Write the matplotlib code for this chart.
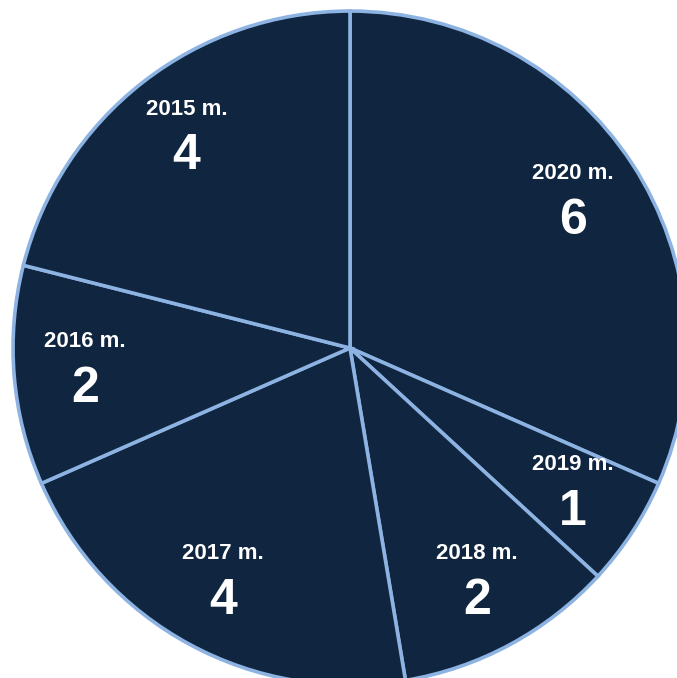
import matplotlib.pyplot as plt
import numpy as np

# Duomenys: metai ir reikšmės (pagal laikrodžio rodyklę nuo viršaus)
years = ['2020 m.', '2019 m.', '2018 m.', '2017 m.', '2016 m.', '2015 m.']
values = [6, 1, 2, 4, 2, 4]

fill_color = '#10253f'
edge_color = '#8db3e2'

fig = plt.figure(figsize=(6.77, 6.78), dpi=100)
ax = fig.add_axes([0.0192, -0.0103, 0.9956, 0.994])

wedges, _ = ax.pie(values, startangle=90, counterclock=False, radius=1,
                   colors=[fill_color] * len(values),
                   wedgeprops=dict(edgecolor=edge_color, linewidth=2.6))

total = sum(values)
start = 90.0
r_lab = 0.79
for year, val in zip(years, values):
    span = val / total * 360
    mid = np.deg2rad(start - span / 2)
    start -= span
    x, y = r_lab * np.cos(mid), r_lab * np.sin(mid)
    ax.text(x, y + 0.085, year, ha='center', va='center', color='white',
            fontsize=16, fontweight='bold', family='Liberation Sans')
    ax.text(x, y - 0.055, str(val), ha='center', va='center', color='white',
            fontsize=36, fontweight='bold', family='Liberation Sans')

ax.set_xlim(-1, 1)
ax.set_ylim(-1, 1)
ax.set_aspect('equal')
ax.axis('off')
for w in wedges:
    w.set_clip_on(False)

fig.savefig('out.png', dpi=100)
